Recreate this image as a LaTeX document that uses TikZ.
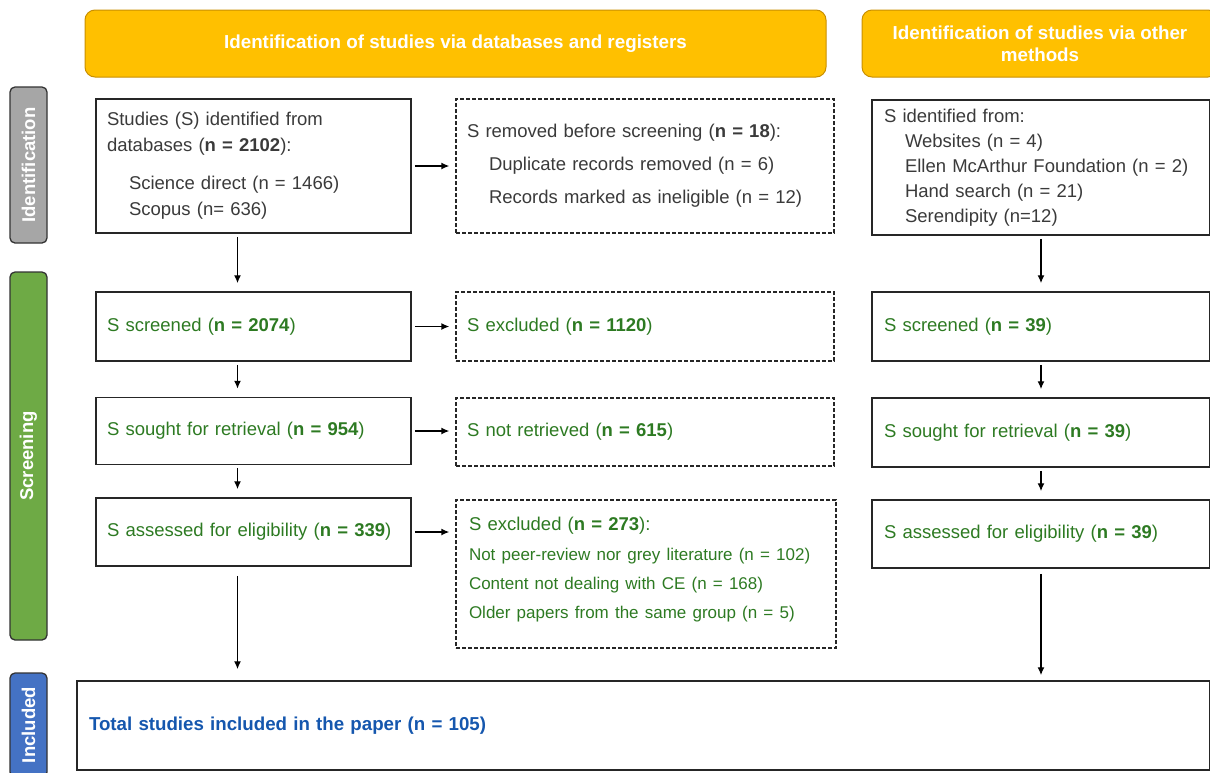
\documentclass[tikz,border=0pt]{standalone}
\usepackage{fontspec}
\setmainfont{Liberation Sans}
\usetikzlibrary{arrows.meta}

\definecolor{headorange}{HTML}{FFC000}
\definecolor{headedge}{HTML}{C98F00}
\definecolor{txtgrey}{HTML}{3A3A3A}
\definecolor{txtgreen}{HTML}{2D7A22}
\definecolor{txtblue}{HTML}{1557AE}
\definecolor{bargrey}{HTML}{A6A6A6}
\definecolor{bargreen}{HTML}{6EAA45}
\definecolor{barblue}{HTML}{4472C4}

\tikzset{
  box/.style={draw=black!85, line width=1.5pt, align=left, inner xsep=11pt, inner ysep=0pt,
    font=\fontsize{18.5}{26}\selectfont},
  dashbox/.style={box, line width=1.3pt, dash pattern=on 4pt off 2pt},
  head/.style={draw=headedge, fill=headorange, rounded corners=10pt, line width=1pt, text=white,
    font=\bfseries\fontsize{18.8}{22}\selectfont, align=center, inner sep=0pt},
  sidebar/.style={draw=black!80, line width=1.3pt, rounded corners=5pt, rotate=90, text=white,
    font=\bfseries\fontsize{18.5}{20}\selectfont, minimum height=37pt, inner sep=0pt},
  arr/.style={-{Latex[length=8pt,width=7pt]}, line width=1.4pt, shorten <=3pt, shorten >=8pt},
}

\begin{document}
\begin{tikzpicture}[x=1pt, y=-1pt]
\useasboundingbox (0,0) rectangle (1210,772);

\node[head, minimum width=741pt, minimum height=67pt] (headdb) at (455.5,43.5)
  {Identification of studies via databases and registers};
\node[head, minimum width=356pt, minimum height=67pt] (headother) at (1040,43.5)
  {Identification of studies via other\\methods};

\node[sidebar, fill=bargrey, minimum width=156pt] (identbar) at (28.5,165) {Identification};
\node[sidebar, fill=bargreen, minimum width=368pt] (screenbar) at (28.5,456) {Screening};
\node[sidebar, fill=barblue, minimum width=104pt] (inclbar) at (28.5,725) {Included};

\node[box, text=txtgrey, text width=293pt, minimum height=134pt] (dbident) at (253.5,166)
  {Studies (S) identified from\\databases (\textbf{n = 2102}):\\[12pt]
   \hspace*{22pt}Science direct (n = 1466)\\\hspace*{22pt}Scopus (n= 636)};
\node[dashbox, text=txtgrey, text width=356pt, minimum height=134pt] (dbremoved) at (645,166)
  {S removed before screening (\textbf{n = 18}):\\[7pt]
   \hspace*{22pt}Duplicate records removed (n = 6)\\[7pt]
   \hspace*{22pt}Records marked as ineligible (n = 12)};
\node[box, text=txtgrey, text width=314pt, inner xsep=12pt, minimum height=135pt, font=\fontsize{18.5}{25}\selectfont]
  (otherident) at (1041,167.5)
  {S identified from:\\\hspace*{21pt}Websites (n = 4)\\\hspace*{21pt}Ellen McArthur Foundation (n = 2)\\
   \hspace*{21pt}Hand search (n = 21)\\\hspace*{21pt}Serendipity (n=12)};

\node[box, text=txtgreen, text width=293pt, minimum height=69pt] (dbscreen) at (253.5,326.5)
  {S screened (\textbf{n = 2074})};
\node[dashbox, text=txtgreen, text width=356pt, minimum height=69pt] (dbexclone) at (645,326.5)
  {S excluded (\textbf{n = 1120})};
\node[box, text=txtgreen, text width=314pt, inner xsep=12pt, minimum height=69pt] (otherscreen) at (1041,326.5)
  {S screened (\textbf{n = 39})};

\node[box, text=txtgreen, text width=293pt, minimum height=67pt] (dbsought) at (253.5,431)
  {S sought for retrieval (\textbf{n = 954})};
\node[dashbox, text=txtgreen, text width=356pt, minimum height=68pt] (dbnotret) at (645,432)
  {S not retrieved (\textbf{n = 615})};
\node[box, text=txtgreen, text width=314pt, inner xsep=12pt, minimum height=69pt] (othersought) at (1041,432.5)
  {S sought for retrieval (\textbf{n = 39})};

\node[box, text=txtgreen, text width=293pt, minimum height=68pt] (dbassess) at (253.5,532)
  {S assessed for eligibility (\textbf{n = 339})};
\node[dashbox, text=txtgreen, text width=354pt, inner xsep=13pt, minimum height=148pt] (dbexcltwo) at (646,574)
  {S excluded (\textbf{n = 273}):\\[4pt]
   {\fontsize{17}{26}\selectfont Not peer-review nor grey literature (n = 102)}\\[3pt]
   {\fontsize{17}{26}\selectfont Content not dealing with CE (n = 168)}\\[3pt]
   {\fontsize{17}{26}\selectfont Older papers from the same group (n = 5)\rule[-12pt]{0pt}{12pt}}};
\node[box, text=txtgreen, text width=314pt, inner xsep=12pt, minimum height=68pt] (otherassess) at (1041,534)
  {S assessed for eligibility (\textbf{n = 39})};

\node[box, text=txtblue, text width=1109pt, inner xsep=12pt, minimum height=89pt,
  font=\bfseries\fontsize{18.7}{22}\selectfont] (total) at (643.5,725.5)
  {Total studies included in the paper (n = 105)};

\draw[arr] ([xshift=-16pt]dbident.south) -- ([xshift=-16pt]dbscreen.north);
\draw[arr] ([xshift=-16pt]dbscreen.south) -- ([xshift=-16pt]dbsought.north);
\draw[arr] ([xshift=-16pt]dbsought.south) -- ([xshift=-16pt]dbassess.north);
\draw[arr, shorten <=9pt, shorten >=11pt] ([xshift=-16pt]dbassess.south) -- ([xshift=-16pt]dbassess.south |- total.north);

\draw[arr, shorten >=6pt] (dbident.east) -- (dbremoved.west);
\draw[arr, shorten >=6pt] (dbscreen.east) -- (dbexclone.west);
\draw[arr, shorten >=6pt] (dbsought.east) -- (dbsought.east -| dbnotret.west);
\draw[arr, shorten >=6pt] (dbassess.east) -- (dbassess.east -| dbexcltwo.west);

\draw[arr] (otherident.south) -- (otherscreen.north);
\draw[arr] (otherscreen.south) -- (othersought.north);
\draw[arr] (othersought.south) -- (otherassess.north);
\draw[arr, shorten <=5pt, shorten >=5pt] (otherassess.south) -- (otherassess.south |- total.north);
\end{tikzpicture}
\end{document}
